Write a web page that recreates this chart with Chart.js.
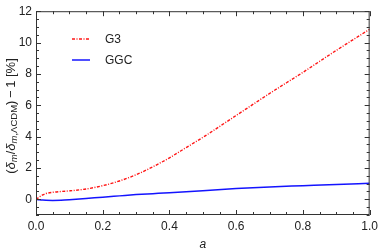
<!DOCTYPE html>
<html>
<head>
<meta charset="utf-8">
<script src="https://cdn.jsdelivr.net/npm/chart.js@4.4.0/dist/chart.umd.min.js"></script>
<style>
  html, body { margin: 0; padding: 0; background: #fff; }
  #wrap { width: 382px; height: 252px; }
</style>
</head>
<body>
<div id="wrap"><canvas id="myChart"></canvas></div>
<script>
const aVals = [0, 0.01, 0.02, 0.03, 0.05, 0.075, 0.1, 0.15, 0.2, 0.25, 0.3, 0.35, 0.4, 0.45, 0.5, 0.6, 0.7, 0.8, 0.9, 1.0];
const g3Vals = [0, 0.15, 0.28, 0.37, 0.45, 0.5, 0.54, 0.66, 0.87, 1.17, 1.57, 2.07, 2.65, 3.3, 3.95, 5.35, 6.75, 8.1, 9.5, 10.85];
const ggcVals = [0, -0.03, -0.05, -0.06, -0.07, -0.06, -0.03, 0.05, 0.14, 0.22, 0.3, 0.36, 0.42, 0.49, 0.55, 0.69, 0.79, 0.87, 0.95, 1.02];
const xTicks = [0, 0.2, 0.4, 0.6, 0.8, 1.0];
const yTicks = [0, 2, 4, 6, 8, 10, 12];
const seriesNames = ['G3', 'GGC'];

const font = 'Liberation Sans, Arial, sans-serif';
const ctx = document.getElementById('myChart');

function pts(ys) {
  return aVals.map((a, i) => ({ x: a, y: ys[i] }));
}

// inward frame ticks, legend and y title with subscripts
const framePlugin = {
  id: 'frame',
  afterDraw(chart) {
    const c = chart.ctx;
    const area = chart.chartArea;
    const xs = chart.scales.x, ys = chart.scales.y;
    c.save();
    c.strokeStyle = '#333';
    c.lineWidth = 1;
    c.strokeRect(area.left + 0.5, area.top + 0.5, area.right - area.left - 1, area.bottom - area.top - 1);
    c.beginPath();
    for (let v = 0; v <= 1.0001; v += 0.05) {
      const px = Math.round(xs.getPixelForValue(v)) + 0.5;
      const major = Math.abs(v * 5 - Math.round(v * 5)) < 1e-6;
      const len = major ? 5 : 3;
      c.moveTo(px, area.bottom); c.lineTo(px, area.bottom - len);
      c.moveTo(px, area.top); c.lineTo(px, area.top + len);
    }
    for (let v = -1; v <= 12.0001; v += 0.5) {
      const py = Math.round(ys.getPixelForValue(v)) + 0.5;
      const major = Math.abs(v / 2 - Math.round(v / 2)) < 1e-6;
      const len = major ? 5 : 3;
      c.moveTo(area.left, py); c.lineTo(area.left + len, py);
      c.moveTo(area.right, py); c.lineTo(area.right - len, py);
    }
    c.stroke();

    // legend
    const ds = chart.data.datasets;
    const ly = [39, 60];
    ds.forEach((d, i) => {
      c.beginPath();
      c.strokeStyle = d.borderColor;
      c.lineWidth = d.borderWidth;
      c.setLineDash(d.borderDash || []);
      c.moveTo(72, ly[i]); c.lineTo(90, ly[i]);
      c.stroke();
      c.setLineDash([]);
      c.fillStyle = '#222';
      c.font = '12px ' + font;
      c.textBaseline = 'middle';
      c.fillText(d.label, 105, ly[i] + 0.5);
    });

    // y title
    c.translate(11, 116);
    c.rotate(-Math.PI / 2);
    const parts = [
      ['(', 'normal 13px', 0],
      ['δ', 'italic 13px', 0],
      ['m', 'italic 9.5px', 3],
      ['/', 'normal 13px', 0],
      ['δ', 'italic 13px', 0],
      ['m', 'italic 9.5px', 3],
      [',ΛCDM', 'normal 9.5px', 3],
      [')\u2009−\u20091 [%]', 'normal 13px', 0]
    ];
    let total = 0;
    parts.forEach(p => { c.font = p[1] + ' ' + font; total += c.measureText(p[0]).width; });
    let x = -total / 2;
    c.fillStyle = '#222';
    c.textBaseline = 'middle';
    parts.forEach(p => {
      c.font = p[1] + ' ' + font;
      c.fillText(p[0], x, p[2]);
      x += c.measureText(p[0]).width;
    });
    c.restore();
  }
};

new Chart(ctx, {
  type: 'line',
  data: {
    datasets: [{
      label: seriesNames[0],
      data: pts(g3Vals),
      borderColor: 'rgb(255, 20, 20)',
      borderWidth: 1.4,
      borderDash: [3, 1.5, 1, 1.5],
      pointRadius: 0,
      cubicInterpolationMode: 'monotone',
      fill: false
    }, {
      label: seriesNames[1],
      data: pts(ggcVals),
      borderColor: 'rgb(20, 20, 255)',
      borderWidth: 1.5,
      pointRadius: 0,
      cubicInterpolationMode: 'monotone',
      fill: false
    }]
  },
  options: {
    responsive: true,
    maintainAspectRatio: false,
    animation: false,
    layout: { padding: { top: 1, right: 10, left: 0, bottom: 0 } },
    plugins: { legend: { display: false }, tooltip: { enabled: false } },
    scales: {
      x: {
        type: 'linear',
        min: 0, max: 1,
        afterBuildTicks: s => { s.ticks = xTicks.map(v => ({ value: v })); },
        afterFit: s => { s.height = 37; },
        grid: { display: false, drawTicks: false },
        border: { display: false },
        ticks: {
          color: '#222', padding: 4,
          font: { family: font, size: 12 },
          callback: v => v.toFixed(1)
        },
        title: {
          display: true, text: 'a', color: '#222', padding: { top: 3, bottom: 0 },
          font: { family: font, size: 12, style: 'italic' }
        }
      },
      y: {
        min: -1, max: 12,
        afterBuildTicks: s => { s.ticks = yTicks.map(v => ({ value: v })); },
        afterFit: s => { s.width = 36; },
        grid: { display: false, drawTicks: false },
        border: { display: false },
        ticks: {
          color: '#222', padding: 4,
          font: { family: font, size: 12 }
        }
      }
    }
  },
  plugins: [framePlugin]
});
</script>
</body>
</html>
